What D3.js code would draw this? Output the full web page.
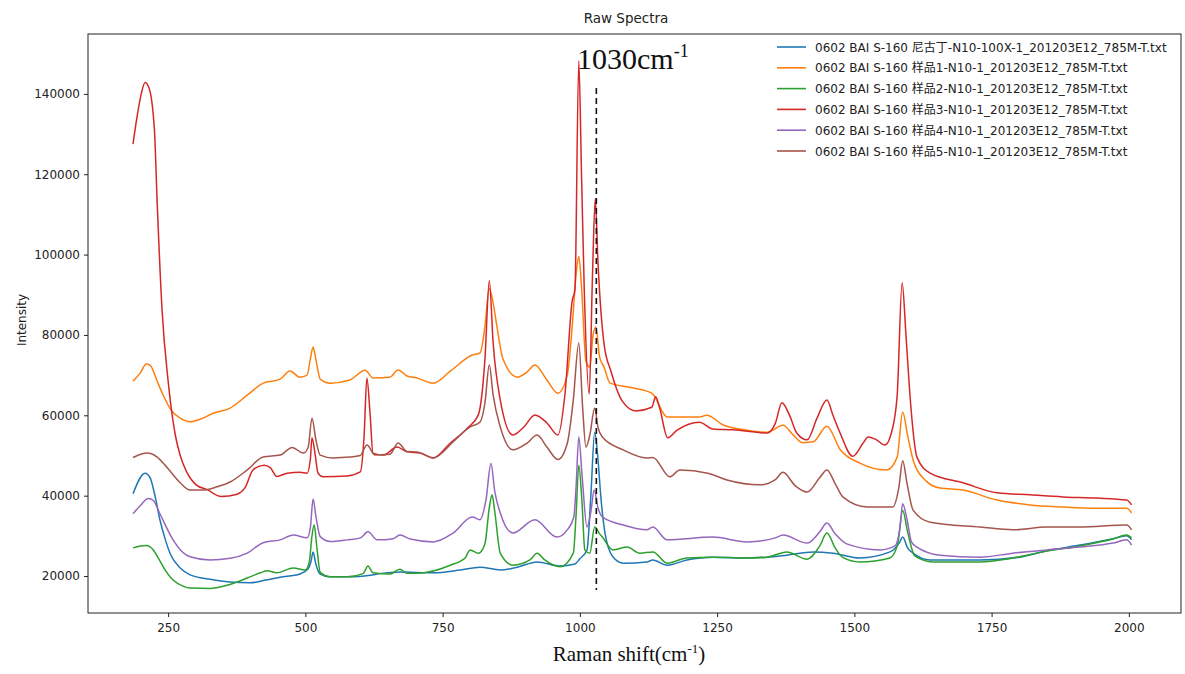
<!DOCTYPE html>
<html><head><meta charset="utf-8">
<script src="https://cdn.jsdelivr.net/npm/d3@7/dist/d3.min.js"></script>
<style>body{margin:0;background:#fff}svg{display:block}</style>
</head><body><svg id="c" width="1185" height="674"></svg>
<script>
const xTicks=[250,500,750,1000,1250,1500,1750,2000];
const yTicks=[20000,40000,60000,80000,100000,120000,140000];
const seriesNames=[
"0602 BAI S-160 尼古丁-N10-100X-1_201203E12_785M-T.txt",
"0602 BAI S-160 样品1-N10-1_201203E12_785M-T.txt",
"0602 BAI S-160 样品2-N10-1_201203E12_785M-T.txt",
"0602 BAI S-160 样品3-N10-1_201203E12_785M-T.txt",
"0602 BAI S-160 样品4-N10-1_201203E12_785M-T.txt",
"0602 BAI S-160 样品5-N10-1_201203E12_785M-T.txt"];
const seriesColors=["#1f77b4","#ff7f0e","#2ca02c","#d62728","#9467bd","#a5554c"];
const markerShift=1030;

const nicotine=[[186,40500],[208,45600],[217,44500],[226,40000],[235,34000],[245,29000],[254,25500],[272,22000],[290,20300],[326,19200],[363,18500],[399,18300],[427,19000],[454,19700],[490,20500],[505,21800],[510,23500],[514,26000],[519,23000],[527,20500],[545,19800],[581,19800],[618,20200],[636,20600],[672,21000],[733,20800],[782,21500],[818,22200],[855,21500],[886,22200],[922,23500],[964,22500],[991,23000],[1000,24300],[1013,26500],[1020,40000],[1027,55800],[1033,49000],[1038,40000],[1046,30500],[1060,24800],[1079,23200],[1122,23500],[1133,24000],[1159,22700],[1195,24000],[1242,24700],[1292,24500],[1341,24700],[1377,25200],[1425,26000],[1461,25700],[1510,24500],[1565,26000],[1583,28500],[1588,29700],[1597,27000],[1607,25700],[1638,24000],[1729,24000],[1801,24700],[1851,26300],[1911,27700],[1971,29300],[1996,30000],[2005,29000]];

const sample1=[[186,68500],[199,70500],[210,72800],[217,72500],[230,68500],[241,65000],[257,61000],[272,59300],[290,58400],[308,59000],[332,60500],[363,61800],[394,65000],[423,68000],[454,69000],[472,71000],[490,69500],[503,70000],[509,74000],[514,77000],[519,74000],[527,69000],[545,68000],[581,68800],[609,71200],[623,69300],[654,69500],[669,71300],[685,69800],[703,69300],[733,68000],[764,71000],[804,75000],[818,75500],[827,82000],[835,91500],[842,88000],[849,82000],[860,74000],[886,69500],[904,70800],[918,72500],[940,68800],[960,65500],[977,70000],[986,82000],[993,95000],[998,99500],[1003,92000],[1011,73500],[1018,72000],[1024,80000],[1029,82000],[1036,74500],[1044,72000],[1055,68000],[1091,67000],[1131,65500],[1159,59600],[1218,59600],[1231,60000],[1261,57600],[1304,56300],[1341,55800],[1370,57500],[1388,55200],[1406,53200],[1425,53400],[1450,57300],[1474,51500],[1510,48100],[1559,46400],[1578,49600],[1588,60800],[1597,55000],[1607,48900],[1632,43500],[1656,41900],[1698,41400],[1760,38900],[1820,37700],[1880,37200],[1942,36900],[1996,36900],[2005,35700]];

const sample2=[[186,27000],[199,27500],[210,27600],[223,26500],[232,24500],[241,22300],[259,19000],[277,17500],[290,17000],[326,16900],[357,17700],[394,19500],[418,20800],[430,21300],[448,20800],[478,22000],[500,21500],[507,23500],[512,30000],[516,32700],[521,27000],[527,20900],[545,19800],[576,19800],[605,20600],[614,22500],[623,20800],[654,20500],[672,21700],[685,20700],[703,20700],[764,22700],[791,24500],[800,26500],[815,25700],[827,28000],[835,37000],[840,40200],[845,36000],[855,25700],[878,22700],[909,24000],[922,25700],[936,24000],[964,22300],[988,25700],[993,35000],[998,47600],[1004,38000],[1009,26500],[1018,25700],[1027,32200],[1036,30500],[1041,29700],[1060,26500],[1086,27200],[1109,25700],[1133,26000],[1159,23200],[1195,24500],[1242,24700],[1304,24500],[1341,24700],[1377,26000],[1414,24200],[1437,27500],[1450,30700],[1465,27000],[1478,24700],[1510,23500],[1565,24500],[1579,28000],[1588,36300],[1597,31000],[1610,25000],[1643,23500],[1729,23500],[1789,24500],[1851,26200],[1911,27500],[1971,29200],[1996,30200],[2005,29500]];

const sample3=[[186,127500],[193,134000],[201,140000],[208,142800],[215,141500],[225,131000],[230,113000],[239,86000],[250,68500],[263,55100],[272,50000],[283,46100],[301,42700],[321,41500],[347,39800],[374,40300],[390,42000],[405,46500],[425,47600],[436,47000],[448,44800],[467,45600],[490,45800],[503,45600],[509,49000],[512,54400],[518,50000],[523,45600],[532,44700],[576,44900],[600,45900],[607,55000],[612,69300],[618,60000],[623,50600],[642,50100],[667,52100],[685,50900],[709,50600],[733,49400],[764,53100],[795,56800],[815,60100],[827,73800],[835,93500],[842,78000],[855,63800],[878,55100],[898,57100],[918,60100],[940,58100],[960,55100],[973,65500],[986,88500],[991,91200],[998,148200],[1003,120000],[1008,91200],[1017,65300],[1023,95000],[1028,113900],[1033,98000],[1044,77800],[1057,70800],[1077,63600],[1102,61100],[1131,62000],[1138,64600],[1145,62000],[1160,54400],[1177,56300],[1218,58300],[1242,56600],[1279,56400],[1341,55600],[1356,58000],[1368,63100],[1382,60000],[1395,55600],[1414,53900],[1432,59300],[1450,63800],[1461,60000],[1474,55600],[1497,49800],[1516,53100],[1525,54600],[1539,54000],[1556,52600],[1568,55900],[1578,65000],[1587,93000],[1594,80000],[1601,65500],[1614,49600],[1638,45600],[1698,43200],[1760,40700],[1820,40200],[1880,39700],[1942,39400],[1996,38900],[2005,37700]];

const sample4=[[186,35500],[199,37500],[214,39300],[223,38800],[235,35500],[259,29000],[276,26000],[290,24800],[326,24000],[363,24400],[394,25700],[423,28300],[454,29000],[478,30200],[503,29500],[509,32000],[514,39200],[519,35000],[527,29800],[545,28600],[576,29000],[600,29500],[614,31000],[631,29000],[660,29300],[672,30200],[691,29200],[733,28500],[769,30700],[804,34700],[818,34000],[829,39000],[838,48000],[845,41000],[855,35700],[878,30700],[918,34000],[958,29700],[977,31500],[989,34700],[993,42000],[998,54600],[1004,45000],[1013,32200],[1020,36000],[1026,41400],[1033,37000],[1041,34700],[1079,32700],[1122,31500],[1133,32200],[1159,29000],[1242,29700],[1304,28500],[1356,29500],[1370,30200],[1414,28200],[1437,31000],[1450,33200],[1465,30500],[1486,28000],[1547,26500],[1574,27500],[1583,32000],[1588,38000],[1596,34000],[1604,28500],[1614,27200],[1656,25200],[1729,24700],[1789,25700],[1851,26500],[1911,27200],[1971,28200],[1996,29000],[2005,27700]];

const sample5=[[186,49500],[212,50600],[230,49600],[248,47000],[272,43200],[290,41400],[314,41400],[339,42200],[363,43400],[394,46400],[423,49600],[454,50100],[476,52000],[496,50600],[505,52000],[512,59300],[519,54000],[527,50100],[550,49400],[581,49600],[600,50000],[612,52600],[627,50100],[654,50300],[669,53100],[685,51000],[703,50900],[733,49400],[769,53400],[800,57100],[818,58300],[827,63000],[835,72500],[842,65000],[855,57100],[878,51400],[904,53100],[922,55100],[940,52100],[960,49000],[977,53000],[988,63800],[998,78000],[1005,62000],[1011,52100],[1018,55000],[1027,61800],[1033,57000],[1041,54600],[1079,51400],[1122,49400],[1133,49500],[1164,44700],[1182,46400],[1233,45600],[1268,43900],[1328,42700],[1356,44000],[1370,45800],[1392,42500],[1414,40900],[1437,44500],[1450,46400],[1465,43000],[1479,39700],[1523,37200],[1570,37200],[1581,42000],[1588,48700],[1596,43000],[1607,36400],[1638,33400],[1729,32200],[1789,31500],[1851,32200],[1911,32200],[1996,32700],[2005,31500]];

const allSeries=[nicotine,sample1,sample2,sample3,sample4,sample5];

const svg=d3.select("#c");
const L=88,R=1181,T=34,B=613;
const x=d3.scaleLinear().domain([104,2095]).range([L,R]);
const y=d3.scaleLinear().domain([10800,154900]).range([B,T]);

const tickFont="'DejaVu Sans', sans-serif";
const gx=svg.append("g").attr("transform",`translate(0,${B})`)
  .call(d3.axisBottom(x).tickValues(xTicks).tickSize(4).tickPadding(6).tickFormat(d3.format("d")));
const gy=svg.append("g").attr("transform",`translate(${L},0)`)
  .call(d3.axisLeft(y).tickValues(yTicks).tickSize(4).tickPadding(4).tickFormat(d3.format("d")));
[gx,gy].forEach(g=>{
  g.select(".domain").remove();
  g.selectAll("text").attr("font-family",tickFont).attr("font-size",12).attr("fill","#222");
  g.selectAll("line").attr("stroke","#222");
});

const line=d3.line().x(d=>x(d[0])).y(d=>y(d[1])).curve(d3.curveMonotoneX);
svg.append("clipPath").attr("id","pc").append("rect").attr("x",L).attr("y",T).attr("width",R-L).attr("height",B-T);
const plot=svg.append("g").attr("clip-path","url(#pc)");
allSeries.forEach((s,i)=>{
  plot.append("path").datum(s).attr("d",line).attr("fill","none")
    .attr("stroke",seriesColors[i]).attr("stroke-width",1.5).attr("stroke-linejoin","round");
});

svg.append("rect").attr("x",L).attr("y",T).attr("width",R-L).attr("height",B-T)
  .attr("fill","none").attr("stroke","#222").attr("stroke-width",1);

// dashed marker line
svg.append("line").attr("x1",x(markerShift)).attr("x2",x(markerShift))
  .attr("y1",88).attr("y2",590).attr("stroke","#111").attr("stroke-width",1.6)
  .attr("stroke-dasharray","6,4");
const ann=svg.append("text").attr("x",577).attr("y",69)
  .attr("font-family","'Liberation Serif', 'Times New Roman', serif").attr("font-size",30).attr("fill","#111");
ann.append("tspan").text(markerShift+"cm");
ann.append("tspan").attr("font-size",18).attr("dy",-12).text("-1");

// title
svg.append("text").attr("x",626).attr("y",23).attr("text-anchor","middle")
  .attr("font-family",tickFont).attr("font-size",13.5).attr("fill","#222").text("Raw Spectra");

// axis labels
const xl=svg.append("text").attr("x",629).attr("y",661).attr("text-anchor","middle")
  .attr("font-family","'Liberation Serif', 'Times New Roman', serif").attr("font-size",21).attr("fill","#111");
xl.append("tspan").text("Raman shift(cm");
xl.append("tspan").attr("font-size",13).attr("dy",-8).text("-1");
xl.append("tspan").attr("dy",8).text(")");

svg.append("text").attr("transform","translate(26,320) rotate(-90)").attr("text-anchor","middle")
  .attr("font-family",tickFont).attr("font-size",12).attr("fill","#222").text("Intensity");

// legend
const lg=svg.append("g").attr("transform","translate(777,47)");
seriesNames.forEach((n,i)=>{
  const gy0=i*20.8;
  lg.append("line").attr("x1",0).attr("x2",29).attr("y1",gy0).attr("y2",gy0)
    .attr("stroke",seriesColors[i]).attr("stroke-width",1.6);
  lg.append("text").attr("x",38).attr("y",gy0+4.5).attr("font-family","'DejaVu Sans','Noto Sans CJK SC',sans-serif")
    .attr("font-size",12).attr("fill","#222").text(n);
});
</script></body></html>
